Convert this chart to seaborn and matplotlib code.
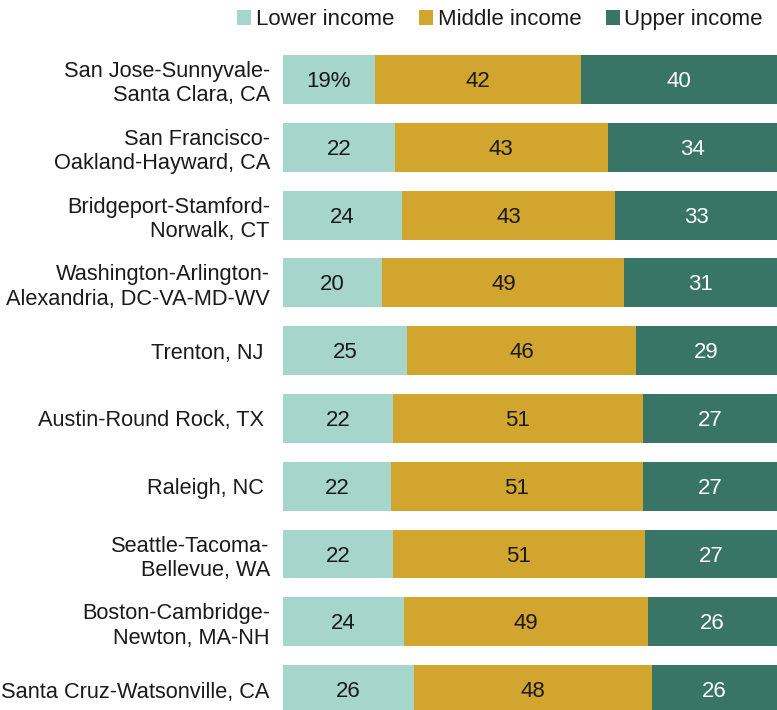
import matplotlib
matplotlib.use("Agg")
import matplotlib.pyplot as plt
import seaborn as sns
import pandas as pd
from matplotlib.patches import Patch

metros = [
    "San Jose-Sunnyvale-\nSanta Clara, CA",
    "San Francisco-\nOakland-Hayward, CA",
    "Bridgeport-Stamford-\nNorwalk, CT",
    "Washington-Arlington-\nAlexandria, DC-VA-MD-WV",
    "Trenton, NJ ",
    "Austin-Round Rock, TX ",
    "Raleigh, NC ",
    "Seattle-Tacoma-\nBellevue, WA",
    "Boston-Cambridge-\nNewton, MA-NH",
    "Santa Cruz-Watsonville, CA",
]
lower = [18.6, 22.6, 24.0, 20.1, 25.2, 22.2, 21.9, 22.3, 24.4, 26.6]
middle = [41.7, 43.1, 43.3, 49.0, 46.2, 50.6, 50.9, 50.9, 49.4, 48.0]
upper = [39.7, 34.3, 32.7, 30.9, 28.6, 27.2, 27.2, 26.8, 26.2, 25.4]
lower_labels = ["19%", "22", "24", "20", "25", "22", "22", "22", "24", "26"]
middle_labels = ["42", "43", "43", "49", "46", "51", "51", "51", "49", "48"]
upper_labels = ["40", "34", "33", "31", "29", "27", "27", "27", "26", "26"]
series_names = ["Lower income", "Middle income", "Upper income"]

c_lower = "#A6D5CB"
c_mid = "#D2A52E"
c_upper = "#387566"

sns.set_theme(style="white")
plt.rcParams['font.family'] = ['Liberation Sans', 'DejaVu Sans']

fig = plt.figure(figsize=(7.77, 7.10), dpi=100)
ax = fig.add_axes([283 / 777, 0, 494 / 777, 1])

df = pd.DataFrame({"metro": metros, "lower": lower, "middle": middle, "upper": upper})
df["lm"] = df["lower"] + df["middle"]
df["total"] = df["lm"] + df["upper"]

bw = 0.72
for col, c in (("total", c_upper), ("lm", c_mid), ("lower", c_lower)):
    sns.barplot(data=df, x=col, y="metro", color=c, width=bw, saturation=1,
                errorbar=None, orient="h", ax=ax, linewidth=0, edgecolor="none")

vfs = 16
for i in range(len(metros)):
    lo, mi, up = lower[i], middle[i], upper[i]
    ax.text(lo / 2, i + 0.03, lower_labels[i], ha="center", va="center", fontsize=vfs, color="#1a1a1a")
    ax.text(lo + mi / 2, i + 0.03, middle_labels[i], ha="center", va="center", fontsize=vfs, color="#1a1a1a")
    ax.text(lo + mi + up / 2, i + 0.03, upper_labels[i], ha="center", va="center", fontsize=vfs, color="white")

ax.set_xlim(0, 100)
ax.set_ylim(9.30, -1.173)
ax.set_xlabel("")
ax.set_ylabel("")
ax.set_xticks([])
for s in ax.spines.values():
    s.set_visible(False)
ax.tick_params(axis="y", length=0, pad=9.5, labelsize=15.7, labelcolor="#1a1a1a")

handles = [Patch(facecolor=c, edgecolor="none") for c in (c_lower, c_mid, c_upper)]
fig.legend(handles, series_names, loc="upper right", bbox_to_anchor=(763 / 777, 1 - 9 / 710),
           ncol=3, frameon=False, fontsize=16, handlelength=0.65, handleheight=0.65,
           handletextpad=0.2, columnspacing=1.1, borderpad=0, borderaxespad=0,
           labelcolor="#1a1a1a")

fig.savefig("out.png", dpi=100)
